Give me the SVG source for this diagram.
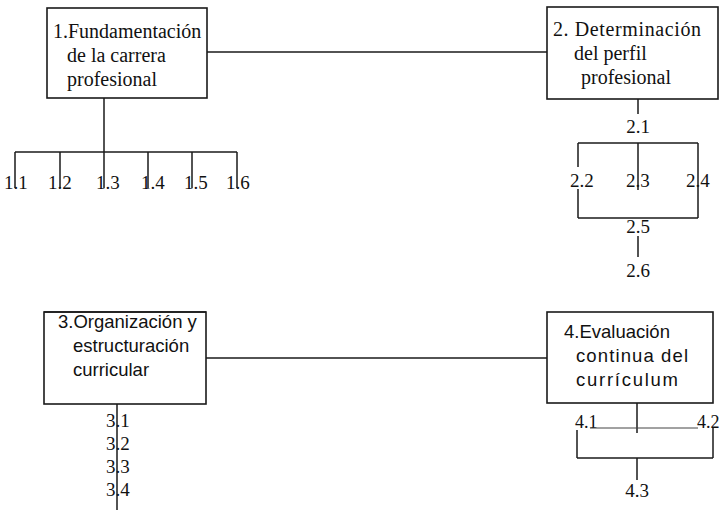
<svg xmlns="http://www.w3.org/2000/svg" width="724" height="510" viewBox="0 0 724 510">
<style>
.box{fill:#fff;stroke:#1a1a1a;stroke-width:1.6}
.ln{stroke:#1a1a1a;stroke-width:1.5;fill:none}
.lt{stroke:#444;stroke-width:1;fill:none}
.serif{font-family:"Liberation Serif","Times New Roman",serif;font-size:20px;fill:#111}
.sans{font-family:"Liberation Sans",Arial,sans-serif;font-size:18.5px;fill:#111}
.lbl{font-family:"Liberation Serif","Times New Roman",serif;font-size:19px;fill:#111}
.sm{font-size:18px}
.mid{text-anchor:middle}
</style>
<rect width="724" height="510" fill="#fff"/>
<g id="n1">
<rect class="box" x="47" y="8" width="160" height="90"/>
<text class="serif" x="53" y="38">1.Fundamentación</text>
<text class="serif" x="67" y="62">de la carrera</text>
<text class="serif" x="67" y="86">profesional</text>
</g>
<g id="n2">
<rect class="box" x="547" y="7" width="171" height="92"/>
<text class="serif" x="553" y="36" textLength="148" lengthAdjust="spacing">2. Determinación</text>
<text class="serif" x="574" y="60">del perfil</text>
<text class="serif" x="581" y="84">profesional</text>
</g>
<g id="n3">
<rect class="box" x="44" y="312" width="162" height="92"/>
<line class="ln" x1="44" y1="312" x2="206" y2="312" stroke-width="2.4"/>
<text class="sans" x="58" y="328">3.Organización y</text>
<text class="sans" x="73" y="352">estructuración</text>
<text class="sans" x="73" y="376">curricular</text>
</g>
<g id="n4">
<rect class="box" x="547" y="312" width="166" height="91"/>
<text class="sans" x="564" y="338">4.Evaluación</text>
<text class="sans" x="576" y="362" font-size="19.5" textLength="112" lengthAdjust="spacing">continua del</text>
<text class="sans" x="576" y="386" font-size="19.5" textLength="102" lengthAdjust="spacing">currículum</text>
</g>
<g id="sub1">
<text class="lbl" x="4" y="189">1.1</text>
<text class="lbl" x="48" y="189">1.2</text>
<text class="lbl" x="96" y="189">1.3</text>
<text class="lbl" x="141" y="189">1.4</text>
<text class="lbl" x="184" y="189">1.5</text>
<text class="lbl" x="226" y="189">1.6</text>
</g>
<g id="sub2">
<text class="lbl mid" x="638" y="133">2.1</text>
<text class="lbl" x="570" y="187">2.2</text>
<text class="lbl" x="626" y="187">2.3</text>
<text class="lbl" x="686" y="187">2.4</text>
<text class="lbl mid" x="638" y="233">2.5</text>
<text class="lbl mid" x="638" y="277">2.6</text>
</g>
<g id="sub3">
<text class="lbl" x="106" y="427">3.1</text>
<text class="lbl" x="106" y="450">3.2</text>
<text class="lbl" x="106" y="473">3.3</text>
<text class="lbl" x="106" y="496">3.4</text>
</g>
<g id="sub4">
<text class="lbl sm" x="575" y="428">4.1</text>
<text class="lbl sm" x="697" y="428">4.2</text>
<text class="lbl mid" x="637" y="497">4.3</text>
</g>
<g id="connectors">
<line class="ln" x1="207" y1="52" x2="547" y2="52"/>
<line class="ln" x1="206" y1="358" x2="547" y2="358"/>
<line class="ln" x1="104" y1="98" x2="104" y2="152"/>
<line class="ln" x1="15" y1="152" x2="237" y2="152"/>
<line class="ln" x1="15" y1="152" x2="15" y2="188"/>
<line class="ln" x1="60" y1="152" x2="60" y2="188"/>
<line class="ln" x1="104" y1="152" x2="104" y2="188" stroke-width="2.2"/>
<line class="ln" x1="148" y1="152" x2="148" y2="188"/>
<line class="ln" x1="192" y1="152" x2="192" y2="188"/>
<line class="ln" x1="237" y1="152" x2="237" y2="188"/>
<line class="ln" x1="638" y1="99" x2="638" y2="114"/>
<line class="ln" x1="578" y1="143" x2="698" y2="143"/>
<line class="ln" x1="578" y1="143" x2="578" y2="167"/>
<line class="ln" x1="578" y1="189" x2="578" y2="218"/>
<line class="ln" x1="638" y1="143" x2="638" y2="190"/>
<line class="ln" x1="698" y1="143" x2="698" y2="218"/>
<line class="ln" x1="578" y1="218" x2="698" y2="218"/>
<line class="ln" x1="638" y1="236" x2="638" y2="257"/>
<line class="ln" x1="117" y1="404" x2="117" y2="510"/>
<line class="ln" x1="637" y1="403" x2="637" y2="433"/>
<line class="lt" x1="590" y1="428" x2="698" y2="428"/>
<line class="ln" x1="577" y1="430" x2="577" y2="458"/>
<line class="ln" x1="713" y1="428" x2="713" y2="458"/>
<line class="ln" x1="577" y1="458" x2="713" y2="458"/>
<line class="ln" x1="637" y1="458" x2="637" y2="480"/>
</g>
</svg>
